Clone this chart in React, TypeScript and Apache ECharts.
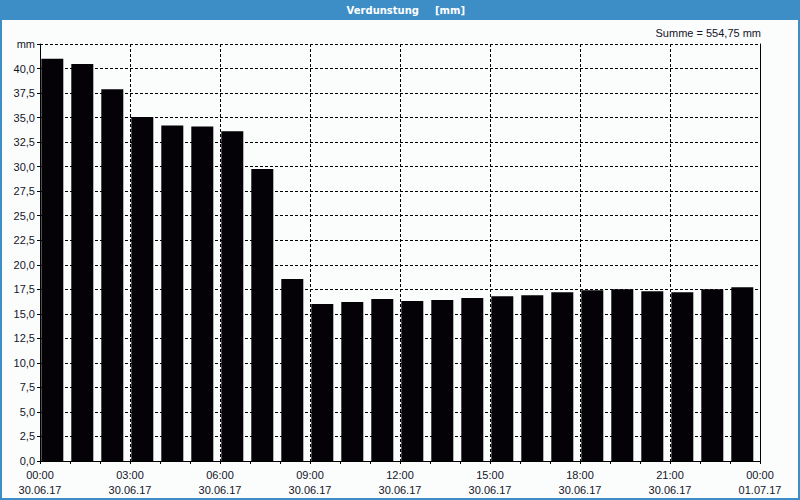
import React, { useEffect, useRef } from "react";
import * as echarts from "echarts";

const hours = [0, 1, 2, 3, 4, 5, 6, 7, 8, 9, 10, 11, 12, 13, 14, 15, 16, 17, 18, 19, 20, 21, 22, 23];
const evaporation = [
  41.0, 40.45, 37.9, 35.05, 34.2, 34.1, 33.6, 29.75, 18.55, 16.0, 16.2, 16.5,
  16.3, 16.4, 16.6, 16.8, 16.9, 17.2, 17.4, 17.5, 17.3, 17.2, 17.5, 17.7,
];
const yTicks = [0, 2.5, 5, 7.5, 10, 12.5, 15, 17.5, 20, 22.5, 25, 27.5, 30, 32.5, 35, 37.5, 40, 42.5];
const dateLabels = ["30.06.17", "01.07.17"];
const titleMain = "Verdunstung";
const titleUnit = "[mm]";
const unitLabel = "mm";
const sumLabel = "Summe = 554,75 mm";
const barPhase = 0.41; // bar centre position within the hour

const FONT = "'Liberation Sans', Arial, sans-serif";
const TEXT = "#14142a";

export default function App() {
  const ref = useRef<HTMLDivElement>(null);
  useEffect(() => {
    if (!ref.current) return;
    const chart = echarts.init(ref.current, undefined, { renderer: "svg" });
    const yMax = yTicks[yTicks.length - 1];
    chart.setOption({
      animation: false,
      backgroundColor: "#fbfdfc",
      textStyle: { fontFamily: FONT },
      grid: { left: 40, right: 40, top: 44, bottom: 39, containLabel: false },
      graphic: [
        { type: "rect", z: 0, shape: { x: 0, y: 0, width: 800, height: 20 }, style: { fill: "#3d8ec6" } },
        { type: "rect", z: 0, shape: { x: 1, y: 1, width: 798, height: 498 }, style: { fill: "none", stroke: "#3d8ec6", lineWidth: 2 } },
        {
          type: "text", x: 419, y: 10,
          style: { text: titleMain, fill: "#ffffff", font: "bold 10px 'DejaVu Sans', sans-serif", align: "right", verticalAlign: "middle" },
        },
        {
          type: "text", x: 435, y: 10,
          style: { text: titleUnit, fill: "#ffffff", font: "bold 10px 'DejaVu Sans', sans-serif", align: "left", verticalAlign: "middle" },
        },
        {
          type: "text", x: 761, y: 33,
          style: { text: sumLabel, fill: TEXT, font: `11px ${FONT}`, align: "right", verticalAlign: "middle" },
        },
      ],
      xAxis: {
        type: "value",
        min: 0,
        max: 24,
        interval: 3,
        axisLine: { show: true, lineStyle: { color: "#000", width: 1 } },
        axisTick: { show: true, length: 3, lineStyle: { color: "#000" } },
        minorTick: { show: true, splitNumber: 3, length: 3, lineStyle: { color: "#000" } },
        splitLine: { show: true, lineStyle: { color: "#000", type: [3, 2], width: 1 } },
        axisLabel: {
          color: TEXT,
          fontFamily: FONT,
          fontSize: 11,
          lineHeight: 15,
          margin: 6,
          formatter: (v: number) => {
            const h = v % 24;
            const hh = (h < 10 ? "0" : "") + h + ":00";
            return hh + "\n" + (v < 24 ? dateLabels[0] : dateLabels[1]);
          },
        },
      },
      yAxis: [
        {
          type: "value",
          min: 0,
          max: yMax,
          interval: 2.5,
          axisLine: { show: true, lineStyle: { color: "#000", width: 1 } },
          axisTick: { show: true, length: 3, lineStyle: { color: "#000" } },
          splitLine: { show: true, lineStyle: { color: "#000", type: [3, 2], width: 1 } },
          axisLabel: {
            color: TEXT,
            fontFamily: FONT,
            fontSize: 11,
            margin: 5,
            formatter: (v: number) => (Math.abs(v - yMax) < 1e-6 ? unitLabel : v.toFixed(1).replace(".", ",")),
          },
        },
        {
          type: "value",
          position: "right",
          min: 0,
          max: yMax,
          interval: 2.5,
          axisLine: { show: true, lineStyle: { color: "#000", width: 1 } },
          axisTick: { show: false },
          axisLabel: { show: false },
          splitLine: { show: false },
        },
      ],
      series: [
        {
          type: "bar",
          yAxisIndex: 0,
          barWidth: 22,
          itemStyle: { color: "#040206" },
          data: hours.map((h, i) => [h + barPhase, evaporation[i]]),
        },
      ],
    });
    return () => chart.dispose();
  }, []);
  return <div ref={ref} style={{ position: "absolute", left: 0, top: 0, width: 800, height: 500 }} />;
}
